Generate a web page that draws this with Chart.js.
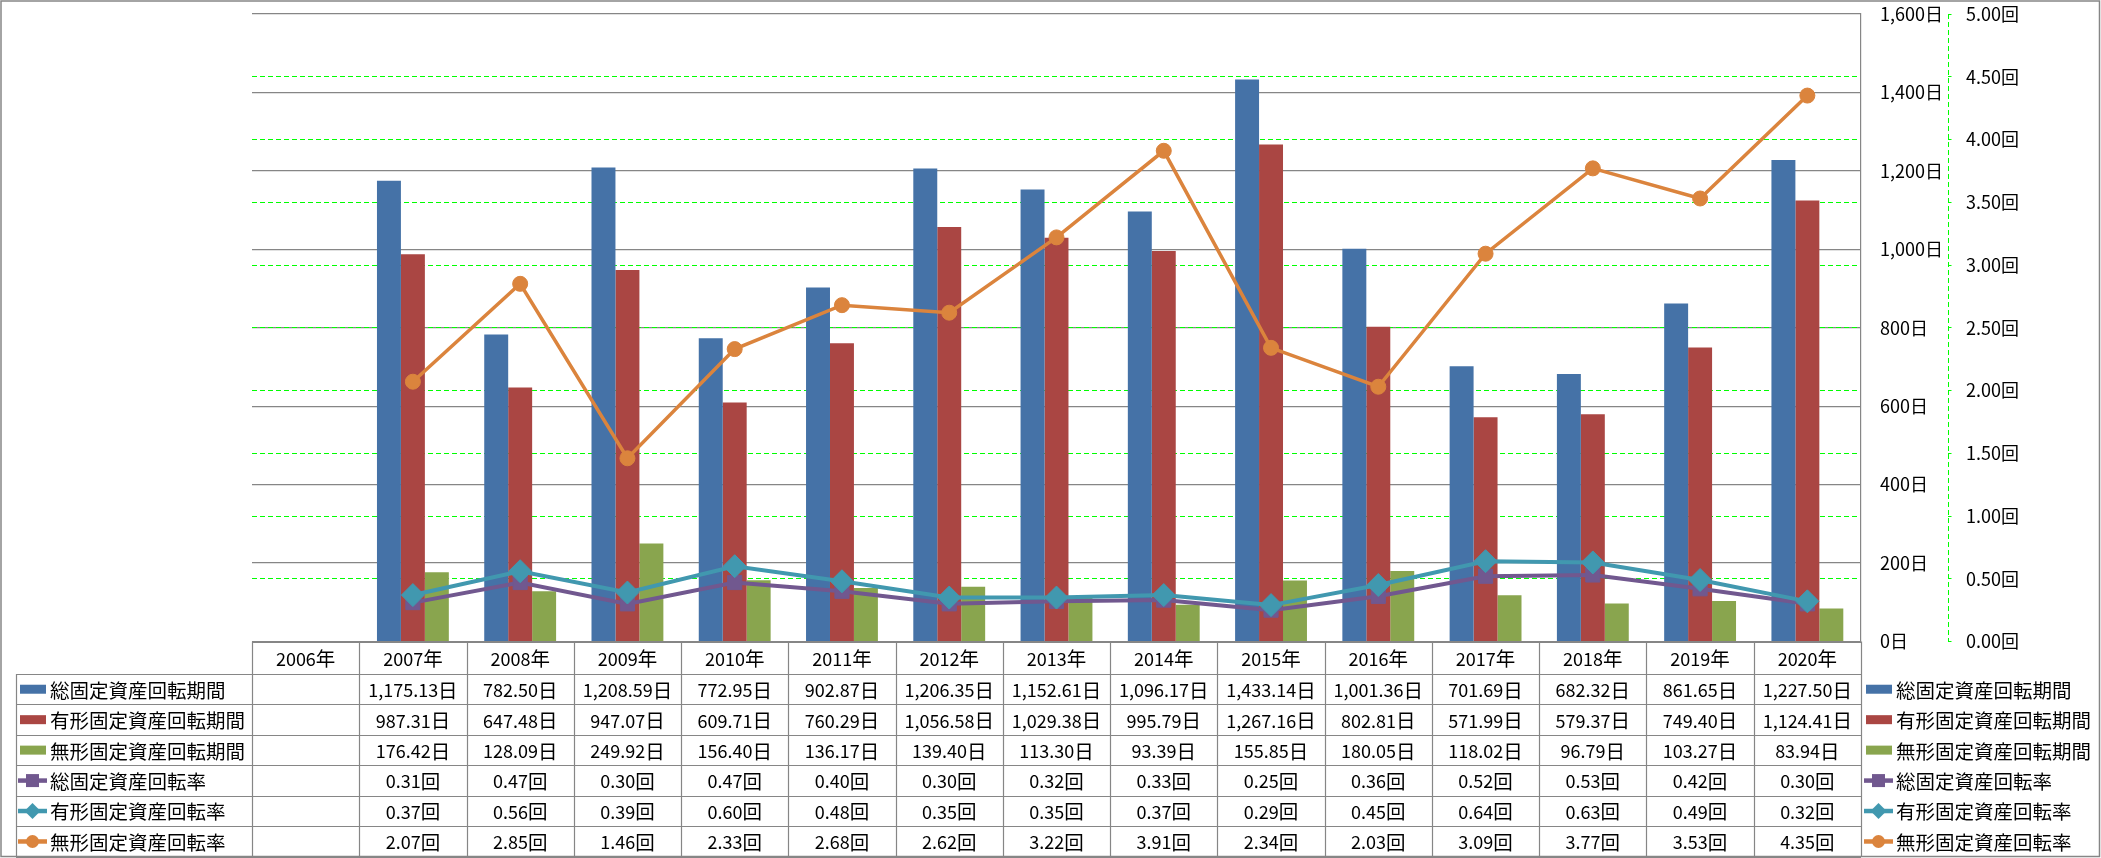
<!DOCTYPE html>
<html>
<head>
<meta charset="utf-8">
<script src="https://cdn.jsdelivr.net/npm/chart.js@4.4.1/dist/chart.umd.min.js"></script>
<style>
  html, body { margin: 0; padding: 0; background: #fff; }
  #wrap { position: relative; width: 2101px; height: 858px; }
</style>
</head>
<body>
<div id="wrap"><canvas id="c"></canvas></div>
<script>
// ---- data ----
const years = ['2006年','2007年','2008年','2009年','2010年','2011年','2012年','2013年','2014年','2015年','2016年','2017年','2018年','2019年','2020年'];
const seriesNames = ['総固定資産回転期間','有形固定資産回転期間','無形固定資産回転期間','総固定資産回転率','有形固定資産回転率','無形固定資産回転率'];
const totalDays      = [null,1175.13,782.50,1208.59,772.95,902.87,1206.35,1152.61,1096.17,1433.14,1001.36,701.69,682.32,861.65,1227.50];
const tangibleDays   = [null,987.31,647.48,947.07,609.71,760.29,1056.58,1029.38,995.79,1267.16,802.81,571.99,579.37,749.40,1124.41];
const intangibleDays = [null,176.42,128.09,249.92,156.40,136.17,139.40,113.30,93.39,155.85,180.05,118.02,96.79,103.27,83.94];
const totalRate      = [null,0.31,0.47,0.30,0.47,0.40,0.30,0.32,0.33,0.25,0.36,0.52,0.53,0.42,0.30];
const tangibleRate   = [null,0.37,0.56,0.39,0.60,0.48,0.35,0.35,0.37,0.29,0.45,0.64,0.63,0.49,0.32];
const intangibleRate = [null,2.07,2.85,1.46,2.33,2.68,2.62,3.22,3.91,2.34,2.03,3.09,3.77,3.53,4.35];
const dayAxis  = { min: 0, max: 1600, step: 200, unit: '日' };
const rateAxis = { min: 0, max: 5, step: 0.5, unit: '回' };

// ---- styles ----
const BLUE = '#4572A7', RED = '#AA4643', GREEN = '#89A54E', PURPLE = '#71588F', TEAL = '#4198AF', ORANGE = '#DB843D';
const GRID = '#868686', LIME = '#00ff00';
const FAM = '"Noto Sans CJK JP", "Noto Sans", sans-serif';
const FONT_A = '18px ' + FAM;     // latin / digits
const FONT_B = '19.5px ' + FAM;   // CJK

const rows = [
  { name: seriesNames[0], vals: totalDays,      kind: 'bar',  color: BLUE,   unit: '日' },
  { name: seriesNames[1], vals: tangibleDays,   kind: 'bar',  color: RED,    unit: '日' },
  { name: seriesNames[2], vals: intangibleDays, kind: 'bar',  color: GREEN,  unit: '日' },
  { name: seriesNames[3], vals: totalRate,      kind: 'line', color: PURPLE, unit: '回', marker: 'rect' },
  { name: seriesNames[4], vals: tangibleRate,   kind: 'line', color: TEAL,   unit: '回', marker: 'rectRot' },
  { name: seriesNames[5], vals: intangibleRate, kind: 'line', color: ORANGE, unit: '回', marker: 'circle' }
];

function fmt(v, unit) {
  if (v === null || v === undefined) return '';
  return v.toLocaleString('en-US', { minimumFractionDigits: 2, maximumFractionDigits: 2 }) + unit;
}

function drawMixed(ctx, text, x, y, align) {
  const runs = [];
  for (const ch of text) {
    const a = ch.charCodeAt(0) < 128;
    if (runs.length && runs[runs.length - 1].a === a) runs[runs.length - 1].t += ch;
    else runs.push({ a, t: ch });
  }
  let total = 0;
  runs.forEach(r => { ctx.font = r.a ? FONT_A : FONT_B; r.w = ctx.measureText(r.t).width; total += r.w; });
  let cx = align === 'center' ? x - total / 2 : (align === 'right' ? x - total : x);
  ctx.textAlign = 'left';
  ctx.textBaseline = 'middle';
  runs.forEach(r => { ctx.font = r.a ? FONT_A : FONT_B; ctx.fillText(r.t, cx, y); cx += r.w; });
}

function drawMarker(ctx, style, x, y, s, color) {
  ctx.fillStyle = color;
  ctx.beginPath();
  if (style === 'rect') ctx.rect(x - s, y - s, 2 * s, 2 * s);
  else if (style === 'rectRot') { ctx.moveTo(x - s, y); ctx.lineTo(x, y - s); ctx.lineTo(x + s, y); ctx.lineTo(x, y + s); ctx.closePath(); }
  else ctx.arc(x, y, s, 0, Math.PI * 2);
  ctx.fill();
}

function drawKey(ctx, row, x, y) {
  if (row.kind === 'bar') {
    ctx.fillStyle = row.color;
    ctx.fillRect(x + 2, y - 4.5, 26, 9);
  } else {
    ctx.strokeStyle = row.color;
    ctx.lineWidth = 4.5;
    ctx.beginPath(); ctx.moveTo(x, y); ctx.lineTo(x + 29, y); ctx.stroke();
    const s = row.marker === 'rect' ? 6.5 : (row.marker === 'rectRot' ? 8 : 6.5);
    drawMarker(ctx, row.marker, x + 14.5, y, s, row.color);
  }
}

const px = v => Math.round(v) + 0.5;

const framePlugin = {
  id: 'frame',
  beforeDraw(chart) {
    const ctx = chart.ctx;
    ctx.save();
    ctx.fillStyle = '#fff';
    ctx.fillRect(0, 0, chart.width, chart.height);
    ctx.restore();
  },
  afterDraw(chart) {
    const { ctx, chartArea: ca, scales } = chart;
    const xs = scales.x, y2 = scales.y2;
    ctx.save();

    // dashed right-axis line
    ctx.strokeStyle = LIME; ctx.lineWidth = 1; ctx.setLineDash([5, 3]);
    ctx.beginPath();
    ctx.moveTo(px(y2.left), y2.getPixelForValue(rateAxis.max));
    ctx.lineTo(px(y2.left), y2.getPixelForValue(rateAxis.min));
    ctx.stroke();
    ctx.setLineDash([]);

    // data table
    const centers = years.map((_, i) => xs.getPixelForValue(i));
    const half = (centers[1] - centers[0]) / 2;
    const bounds = [ca.left].concat(centers.map(c => c + half));
    const top = ca.bottom, headH = 32.5, rowH = 30.45;
    const bodyTop = top + headH;
    const bottom = bodyTop + rows.length * rowH;
    const firstLeft = 16;

    ctx.strokeStyle = GRID; ctx.lineWidth = 1.2;
    ctx.beginPath();
    ctx.moveTo(ca.left, px(top)); ctx.lineTo(ca.right, px(top));
    for (let r = 0; r <= rows.length; r++) {
      const yy = px(bodyTop + r * rowH);
      ctx.moveTo(firstLeft, yy); ctx.lineTo(ca.right, yy);
    }
    bounds.forEach(b => { ctx.moveTo(px(b), top); ctx.lineTo(px(b), bottom); });
    ctx.moveTo(px(firstLeft), bodyTop); ctx.lineTo(px(firstLeft), bottom);
    ctx.stroke();

    ctx.fillStyle = '#000';
    years.forEach((yl, i) => drawMixed(ctx, yl, centers[i], top + headH / 2 + 1, 'center'));

    rows.forEach((row, r) => {
      const cy = bodyTop + (r + 0.5) * rowH;
      drawKey(ctx, row, 18, cy);
      ctx.fillStyle = '#000';
      drawMixed(ctx, row.name, 50, cy + 1, 'left');
      row.vals.forEach((v, i) => {
        ctx.fillStyle = '#000';
        drawMixed(ctx, fmt(v, row.unit), centers[i], cy + 1, 'center');
      });
      // right legend
      drawKey(ctx, row, 1864, cy);
      ctx.fillStyle = '#000';
      drawMixed(ctx, row.name, 1896, cy + 1, 'left');
    });

    // outer border
    ctx.strokeStyle = GRID; ctx.lineWidth = 1.5;
    ctx.strokeRect(1, 1, chart.width - 2.5, chart.height - 2.5);
    ctx.restore();
  }
};

new Chart(document.getElementById('c'), {
  type: 'bar',
  data: {
    labels: years,
    datasets: [
      { type: 'line', label: seriesNames[5], data: intangibleRate, yAxisID: 'y2', order: 0,
        borderColor: ORANGE, backgroundColor: ORANGE, borderWidth: 3.5, pointStyle: 'circle', pointRadius: 7.5, pointBorderWidth: 1, tension: 0 },
      { type: 'line', label: seriesNames[4], data: tangibleRate, yAxisID: 'y2', order: 1,
        borderColor: TEAL, backgroundColor: TEAL, borderWidth: 4, pointStyle: 'rectRot', pointRadius: 11.5, pointBorderWidth: 1, tension: 0 },
      { type: 'line', label: seriesNames[3], data: totalRate, yAxisID: 'y2', order: 2,
        borderColor: PURPLE, backgroundColor: PURPLE, borderWidth: 4, pointStyle: 'rect', pointRadius: 10, pointBorderWidth: 1, tension: 0 },
      { label: seriesNames[0], data: totalDays, yAxisID: 'y', order: 3, backgroundColor: BLUE },
      { label: seriesNames[1], data: tangibleDays, yAxisID: 'y', order: 4, backgroundColor: RED },
      { label: seriesNames[2], data: intangibleDays, yAxisID: 'y', order: 5, backgroundColor: GREEN }
    ]
  },
  options: {
    responsive: true,
    maintainAspectRatio: false,
    animation: false,
    devicePixelRatio: 1,
    categoryPercentage: 0.67,
    barPercentage: 1.0,
    layout: { padding: { left: 252, top: 14, bottom: 216.5, right: 53.5 } },
    plugins: { legend: { display: false }, tooltip: { enabled: false } },
    scales: {
      x: { display: false, offset: true },
      y: {
        position: 'right', weight: 0, min: dayAxis.min, max: dayAxis.max,
        ticks: { stepSize: dayAxis.step, padding: 19, color: '#000', font: { family: FAM, size: 18, lineHeight: 1.2 },
                 callback: v => v.toLocaleString('en-US') + dayAxis.unit },
        grid: { color: GRID, lineWidth: 1.2, drawTicks: false },
        border: { color: GRID, width: 1.2 },
        afterFit: s => { s.width = 86.5; s.paddingTop = 0; s.paddingBottom = 0; }
      },
      y2: {
        position: 'right', weight: 1, min: rateAxis.min, max: rateAxis.max,
        ticks: { stepSize: rateAxis.step, padding: 14.5, color: '#000', font: { family: FAM, size: 18, lineHeight: 1.2 },
                 callback: v => v.toFixed(2) + rateAxis.unit },
        grid: {
          color: c => (c.tick && (c.tick.value === rateAxis.min || c.tick.value === rateAxis.max)) ? 'rgba(0,0,0,0)' : LIME,
          tickColor: LIME, tickLength: 4, lineWidth: 1, tickBorderDash: []
        },
        border: { display: false, dash: [5, 3] },
        afterFit: s => { s.width = 100; s.paddingTop = 0; s.paddingBottom = 0; }
      }
    }
  },
  plugins: [framePlugin]
});
</script>
</body>
</html>
